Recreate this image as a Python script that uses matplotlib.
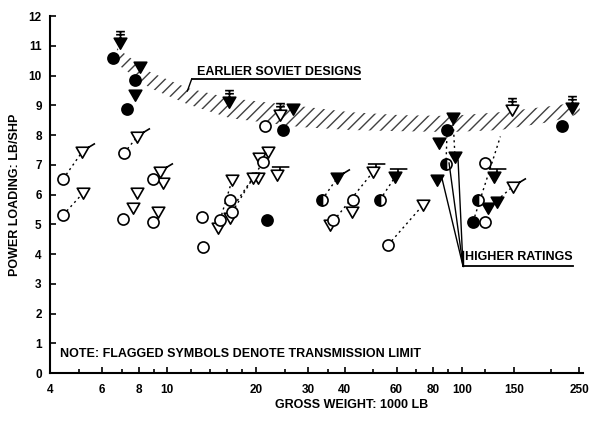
import numpy as np
import matplotlib.pyplot as plt
from matplotlib.path import Path

plt.rcParams['font.family'] = ['Liberation Sans', 'DejaVu Sans']
plt.rcParams['font.weight'] = 'bold'
plt.rcParams['hatch.linewidth'] = 1.0

# filled circles
fc_x = [6.54, 7.77, 7.30, 24.7, 21.8, 89.0, 219, 109]
fc_y = [10.59, 9.85, 8.87, 8.17, 5.14, 8.17, 8.30, 5.08]
# open circles
oc_x = [4.43, 4.43, 7.13, 7.08, 8.94, 8.94, 13.1, 15.1, 13.2, 16.3, 16.6, 21.1, 21.5,
        42.7, 36.5, 56.1, 120, 120]
oc_y = [6.52, 5.31, 7.39, 5.18, 6.52, 5.08, 5.24, 5.14, 4.24, 5.82, 5.41, 7.09, 8.30,
        5.82, 5.14, 4.30, 7.06, 5.08]
# half filled circles
hc_x = [33.5, 52.7, 88.3, 113]
hc_y = [5.82, 5.82, 7.03, 5.82]
# filled triangles (no flag)
ft_x = [8.08, 7.77, 26.7, 93.2, 83.6, 94.7, 82.3, 123, 131]
ft_y = [10.29, 9.34, 8.87, 8.57, 7.73, 7.26, 6.49, 5.55, 5.75]
# open triangles (no flag)
ot_x = [5.18, 7.89, 7.65, 9.67, 9.30, 22.0, 20.5, 20.3, 19.5, 16.6, 16.3, 14.9,
        42.3, 35.7, 73.8]
ot_y = [6.05, 6.05, 5.55, 6.39, 5.41, 7.43, 7.23, 6.55, 6.55, 6.49, 5.21, 4.87,
        5.41, 4.97, 5.65]
# flagged triangles (transmission limit)
fl_x = [6.91, 16.2, 236, 24.1, 148, 49.9, 5.14, 7.89, 9.45, 149, 23.6, 37.7, 128, 59.3]
fl_y = [11.09, 9.11, 8.91, 8.67, 8.84, 6.76, 7.43, 7.93, 6.76, 6.25, 6.66, 6.55, 6.6, 6.59]
fl_fill = ['k', 'k', 'k', 'w', 'w', 'w', 'w', 'w', 'w', 'w', 'w', 'k', 'k', 'k']
fl_kind = ['T', 'T', 'T', 'T', 'T', 'bar', '/', '/', '/', '/', 'bar', '/', 'bar', 'bar']

# dotted links (rating growth of one design)
lk_x0 = [4.43, 4.43, 7.13, 14.9, 16.6, 15.1, 33.5, 35.7, 52.7, 56.1, 89.0, 93.2, 109, 123]
lk_y0 = [5.31, 6.52, 7.39, 4.87, 5.41, 5.14, 5.82, 4.97, 5.82, 4.30, 8.17, 8.57, 5.08, 5.55]
lk_x1 = [5.18, 5.14, 7.89, 19.5, 21.1, 16.6, 37.7, 49.9, 59.3, 73.8, 88.3, 94.7, 135, 148]
lk_y1 = [6.05, 7.43, 7.93, 6.55, 7.09, 6.49, 6.55, 6.76, 6.59, 5.65, 7.03, 7.26, 7.95, 6.25]

# earlier soviet designs band
band_x = [6.75, 8.74, 11.7, 16.3, 28.2, 41.7, 61.6, 91.1, 135, 199, 251]
band_hi = [10.92, 10.12, 9.58, 9.24, 8.97, 8.77, 8.67, 8.64, 8.77, 8.97, 9.11]
band_lo = [10.39, 9.58, 9.04, 8.57, 8.27, 8.17, 8.13, 8.10, 8.17, 8.44, 8.71]

xmajor = [4, 6, 8, 10, 20, 30, 40, 60, 80, 100, 150, 250]
xminor = [5, 7, 9, 12, 14, 16, 18, 25, 35, 50, 70, 90, 120, 200]

TRI = [(-0.5, 0.42), (0.5, 0.42), (0.0, -0.45), (-0.5, 0.42)]


def tri_marker(kind=None):
    verts = list(TRI)
    codes = [Path.MOVETO, Path.LINETO, Path.LINETO, Path.CLOSEPOLY]
    if kind == 'T':
        segs = [[(0, 0.42), (0, 0.95)], [(-0.35, 0.7), (0.35, 0.7)], [(-0.35, 0.95), (0.35, 0.95)]]
    elif kind == 'bar':
        segs = [[(0.2, 0.42), (0.2, 0.68)], [(-0.45, 0.68), (0.95, 0.68)]]
    elif kind == '/':
        segs = [[(0.5, 0.42), (1.0, 0.72)]]
    else:
        segs = []
    for s in segs:
        verts += s
        codes += [Path.MOVETO, Path.LINETO]
    m = np.abs(np.array(verts)).max()
    return Path(verts, codes), m / 0.5


fig = plt.figure(figsize=(5.93, 4.28), dpi=100)
ax = fig.add_axes([0.0843, 0.1285, 0.8993, 0.834])
ax.set_xscale('log')
ax.set_xlim(4, 258)
ax.set_ylim(0, 12)

ax.fill_between(band_x, band_lo, band_hi, facecolor='none', edgecolor='0.25',
                hatch='///', linewidth=0)

for i in range(len(lk_x0)):
    ax.plot([lk_x0[i], lk_x1[i]], [lk_y0[i], lk_y1[i]], ls=(0, (1.5, 2.5)),
            color='k', lw=1.0)

ms = 9
tri, _ = tri_marker()
ax.plot(ot_x, ot_y, ls='none', marker=tri, ms=ms, mfc='w', mec='k', mew=1.2)
ax.plot(ft_x, ft_y, ls='none', marker=tri, ms=ms, mfc='k', mec='k', mew=1.2)
for i in range(len(fl_x)):
    p, k = tri_marker(fl_kind[i])
    ax.plot([fl_x[i]], [fl_y[i]], ls='none', marker=p, ms=ms * k,
            mfc=fl_fill[i], mec='k', mew=1.2)
ax.plot(oc_x, oc_y, ls='none', marker='o', ms=8, mfc='w', mec='k', mew=1.2)
ax.plot(fc_x, fc_y, ls='none', marker='o', ms=8, mfc='k', mec='k', mew=1.2)
ax.plot(hc_x, hc_y, ls='none', marker='o', ms=8, fillstyle='left', mfc='k',
        mfcalt='w', mec='k', mew=1.2)

# annotations
fs = 9
ax.text(12.6, 10.12, 'EARLIER SOVIET DESIGNS', fontsize=fs, va='center', ha='left')
ax.plot([12.1, 45.1], [9.88, 9.88], color='k', lw=1.3)
ax.plot([12.1, 11.7], [9.88, 9.48], color='k', lw=1.0)

ax.text(102, 3.90, 'HIGHER RATINGS', fontsize=fs, va='center', ha='left')
ax.plot([100.8, 238], [3.60, 3.60], color='k', lw=1.3)
for ex, ey in [(85.5, 6.55), (90.4, 7.06), (97, 7.16)]:
    ax.plot([100.8, ex], [3.60, ey], color='k', lw=1.0)
ax.plot([100.8, 100.8], [3.60, 4.1], color='k', lw=1.0)

ax.text(4.33, 0.64, 'NOTE: FLAGGED SYMBOLS DENOTE TRANSMISSION LIMIT', fontsize=fs,
        va='center', ha='left')

ax.set_xticks(xmajor)
ax.set_xticklabels([str(v) for v in xmajor])
ax.set_xticks(xminor, minor=True)
ax.set_xticklabels([], minor=True)
ax.set_yticks(range(0, 13))
ax.tick_params(axis='both', which='both', direction='in', labelsize=8.5, width=1.2)
ax.tick_params(axis='x', which='major', length=4, pad=8)
ax.tick_params(axis='x', which='minor', length=3)
ax.tick_params(axis='y', length=4, pad=6)
for s in ['top', 'right']:
    ax.spines[s].set_visible(False)
for s in ['left', 'bottom']:
    ax.spines[s].set_linewidth(1.5)

ax.set_ylabel('POWER LOADING: LB/SHP', fontsize=fs, fontweight='bold')
ax.yaxis.set_label_coords(-0.055, 0.5)
fig.text(352 / 593, 1 - 405 / 428, 'GROSS WEIGHT: 1000 LB', fontsize=fs,
         fontweight='bold', ha='center', va='center')

fig.savefig('out.png', dpi=100)
